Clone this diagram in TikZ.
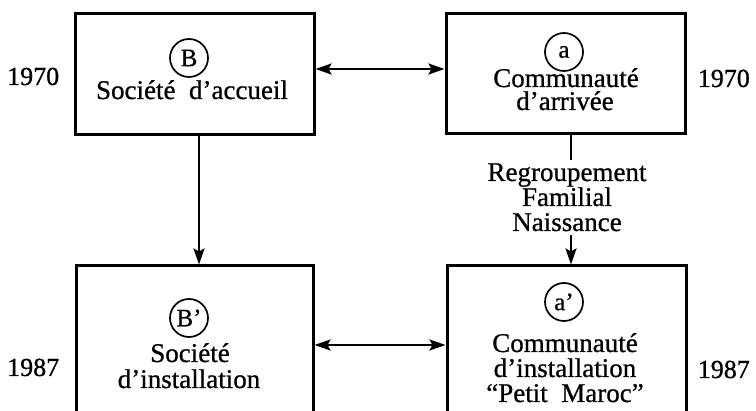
\documentclass[tikz,border=0pt]{standalone}
\usepackage{fontspec}
\setmainfont[FakeBold=0.8]{Liberation Serif}
\usetikzlibrary{arrows.meta}
\tikzset{
  box/.style={draw, line width=3pt, inner sep=0pt},
  lbl/.style={font=\fontsize{27}{25}\selectfont, inner sep=0pt, anchor=base},
  yr/.style={font=\fontsize{26}{25}\selectfont, inner sep=0pt},
  letter/.style={draw, circle, line width=1.7pt, minimum size=38pt, inner sep=0pt, font=\fontsize{25}{24}\selectfont},
  conn/.style={line width=2.3pt},
  tip/.tip={Stealth[length=16pt,width=11pt,inset=3pt]}
}
\begin{document}
\begin{tikzpicture}[x=1pt,y=-1pt]
\useasboundingbox (0,0) rectangle (756,411);
\clip (0,0) rectangle (756,411);
% boxes
\node[box, minimum width=239pt, minimum height=121pt] (TL) at (194.5,74.5) {};
\node[box, minimum width=239pt, minimum height=120pt] (TR) at (565.5,74) {};
\node[box, minimum width=237pt, minimum height=170pt] (BL) at (194.5,351) {};
\node[box, minimum width=239pt, minimum height=170pt] (BR) at (566.5,351) {};
% circled letters
\node[letter] (cB) at (189,58) {B};
\node[letter] (ca) at (564,52) {a};
\node[letter] (cBp) at (189,318) {B’};
\node[letter] (cap) at (564,302) {a’};
% texts
\node[lbl] (tTL) at (192,99) {Société\ \ d’accueil};
\node[lbl] (tTR1) at (566,87) {Communauté};
\node[lbl] (tTR2) at (565,110) {d’arrivée};
\node[lbl] (tBL1) at (190,362) {Société};
\node[lbl] (tBL2) at (189,388) {d’installation};
\node[lbl] (tBR1) at (565,352) {Communauté};
\node[lbl] (tBR2) at (565,377) {d’installation};
\node[lbl] (tBR3) at (565,402) {“Petit\ \ Maroc”};
\node[lbl] (reg1) at (567,181) {Regroupement};
\node[lbl] (reg2) at (567,206) {Familial};
\node[lbl] (reg3) at (567,231) {Naissance};
% years
\node[yr, anchor=base west] (y1) at (7,85) {1970};
\node[yr, anchor=base east] (y2) at (750,87) {1970};
\node[yr, anchor=base west] (y3) at (7,376) {1987};
\node[yr, anchor=base east] (y4) at (750,378) {1987};
% connectors
\draw[conn, tip-tip] ([yshift=5.5pt]TL.east) -- ([yshift=5pt]TR.west);
\draw[conn, tip-tip] ([yshift=6pt]BL.east) -- ([yshift=6pt]BR.west);
\draw[conn, -tip] ([xshift=4.5pt]TL.south) -- ([xshift=4.5pt]BL.north);
\draw[conn] ([xshift=5.5pt]TR.south) -- ([xshift=5.5pt,yshift=3pt]TR.south |- reg1.north);
\draw[conn, -tip] ([xshift=4.5pt,yshift=-4pt]BR.north |- reg3.south) -- ([xshift=4.5pt]BR.north);
\end{tikzpicture}
\end{document}
